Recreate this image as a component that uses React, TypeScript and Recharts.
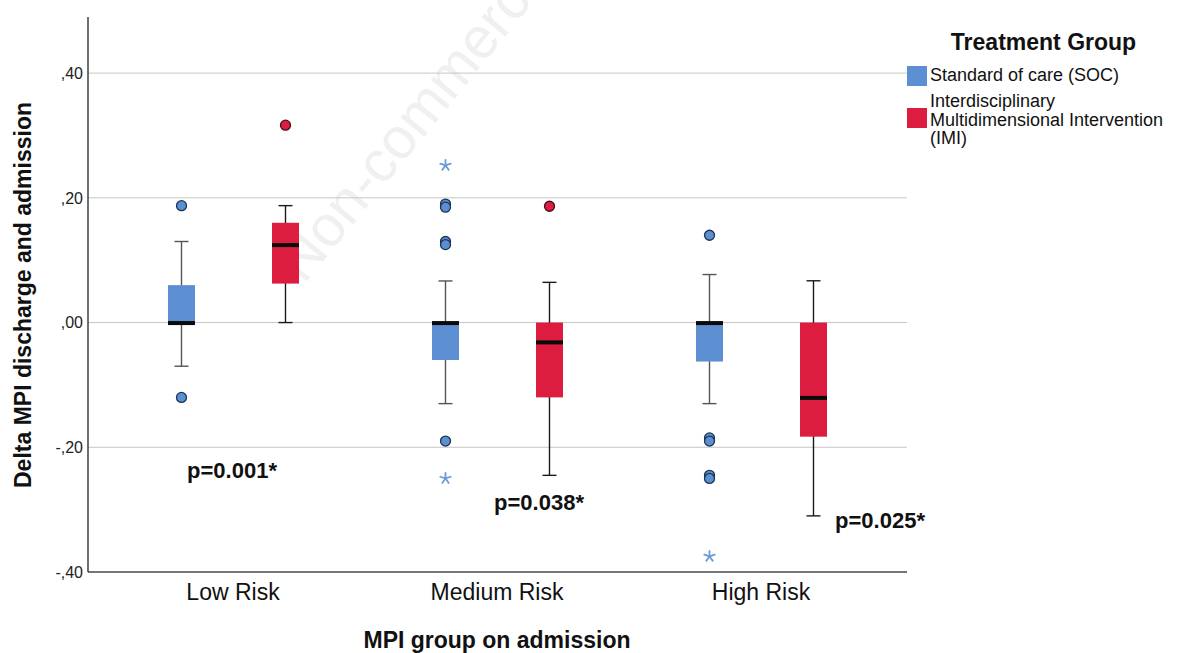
import React from 'react';
import { ComposedChart, Bar, XAxis, YAxis, ReferenceLine, Legend } from 'recharts';

const FONT = '"Liberation Sans", Arial, Helvetica, sans-serif';

const categories = ['Low Risk', 'Medium Risk', 'High Risk'];

// Standard of care (SOC)
const socWhiskerLow = [-0.07, -0.13, -0.13];
const socQ1 = [0.0, -0.06, -0.0625];
const socMedian = [0.0, 0.0, 0.0];
const socQ3 = [0.06, 0.0, 0.0];
const socWhiskerHigh = [0.13, 0.0667, 0.077];
const socOutliers = [
  [0.1875, -0.12],
  [0.19, 0.185, 0.13, 0.125, -0.19],
  [0.14, -0.185, -0.19, -0.245, -0.25],
];
const socExtremes = [[], [0.252, -0.25], [-0.375]];

// Interdisciplinary Multidimensional Intervention (IMI)
const imiWhiskerLow = [0.0, -0.245, -0.31];
const imiQ1 = [0.0625, -0.12, -0.183];
const imiMedian = [0.125, -0.031, -0.12];
const imiQ3 = [0.16, 0.0, 0.0];
const imiWhiskerHigh = [0.1875, 0.0645, 0.067];
const imiOutliers = [[0.3165], [0.1865], []];
const imiExtremes = [[], [], []];

const pValues = ['p=0.001*', 'p=0.038*', 'p=0.025*'];
const yTicks = [-0.4, -0.2, 0, 0.2, 0.4];

const data = categories.map((name, i) => ({
  name,
  soc: [socWhiskerLow[i], socWhiskerHigh[i]],
  socStats: { q1: socQ1[i], median: socMedian[i], q3: socQ3[i], outliers: socOutliers[i], extremes: socExtremes[i] },
  imi: [imiWhiskerLow[i], imiWhiskerHigh[i]],
  imiStats: { q1: imiQ1[i], median: imiMedian[i], q3: imiQ3[i], outliers: imiOutliers[i], extremes: imiExtremes[i] },
}));

// layout of annotation text (pixel positions on the page)
const pValuePos = [
  { x: 232, y: 478 },
  { x: 539, y: 510 },
  { x: 880, y: 528 },
];

const SOC_FILL = '#5b8fd1';
const IMI_FILL = '#dc1d3f';
const CHART_MARGIN = { top: 17, right: 273, bottom: 0, left: 0 };
const Y_DOMAIN: [number, number] = [-0.4, 0.49];

const fmtTick = (v: number) => {
  const s = ',' + String(Math.round(Math.abs(v) * 100)).padStart(2, '0');
  return v < 0 ? '-' + s : s;
};

const makeBoxShape = (key: string, fill: string, whiskerColor: string, dotStroke: string, starColor: string) =>
  (props: any) => {
    const { x, y, width, height, payload } = props;
    const [lo, hi] = payload[key];
    const s = payload[key + 'Stats'];
    const top = Math.min(y, y + height);
    const bottom = Math.max(y, y + height);
    const toY = (v: number) => top + ((hi - v) / (hi - lo)) * (bottom - top);
    const cx = x + width / 2;
    const capW = 7;
    const boxTop = toY(s.q3);
    const boxBot = toY(s.q1);
    return (
      <g>
        <line x1={cx} x2={cx} y1={toY(hi)} y2={toY(lo)} stroke={whiskerColor} strokeWidth={1.4} />
        <line x1={cx - capW} x2={cx + capW} y1={toY(hi)} y2={toY(hi)} stroke={whiskerColor} strokeWidth={1.4} />
        <line x1={cx - capW} x2={cx + capW} y1={toY(lo)} y2={toY(lo)} stroke={whiskerColor} strokeWidth={1.4} />
        <rect x={x} y={boxTop} width={width} height={Math.max(boxBot - boxTop, 0)} fill={fill} />
        <rect x={x} y={toY(s.median) - 1.5} width={width} height={4} fill="#0b0b0b" />
        {s.outliers.map((v: number, j: number) => (
          <circle key={'o' + j} cx={cx} cy={toY(v)} r={5} fill={fill} stroke={dotStroke} strokeWidth={1.3} />
        ))}
        {s.extremes.map((v: number, j: number) => {
          const cy = toY(v);
          return (
            <g key={'e' + j} stroke={starColor} strokeWidth={1.8} strokeLinecap="round">
              {[-90, -18, 54, 126, 198].map((a) => (
                <line
                  key={a}
                  x1={cx}
                  y1={cy}
                  x2={cx + 5.5 * Math.cos((a * Math.PI) / 180)}
                  y2={cy + 5.5 * Math.sin((a * Math.PI) / 180)}
                />
              ))}
            </g>
          );
        })}
      </g>
    );
  };

const socShape = makeBoxShape('soc', SOC_FILL, '#555555', '#1c3553', '#6b9bd8');
const imiShape = makeBoxShape('imi', IMI_FILL, '#1a1a1a', '#4a0c18', '#e0455f');

const XTick = (props: any) => {
  const { x, y, payload } = props;
  return (
    <text x={x} y={y + 28} textAnchor="middle" fontSize={23} fontFamily={FONT} fill="#111">
      {payload.value}
    </text>
  );
};

const legendOrder = ['soc', 'imi'];
const squareTops = [66, 108];
const textTops = [66, 92];

const renderLegend = (props: any) => {
  const items = [...(props.payload || [])].sort(
    (a: any, b: any) => legendOrder.indexOf(a.dataKey) - legendOrder.indexOf(b.dataKey)
  );
  return (
    <div style={{ position: 'relative', width: 273, height: 160, fontFamily: FONT, color: '#111' }}>
      <div
        style={{
          position: 'absolute',
          left: 0,
          top: 29,
          width: 273,
          textAlign: 'center',
          fontWeight: 'bold',
          fontSize: 23,
          lineHeight: '26px',
        }}
      >
        Treatment Group
      </div>
      {items.map((entry: any, i: number) => (
        <React.Fragment key={i}>
          <div
            style={{
              position: 'absolute',
              left: 0,
              top: squareTops[i],
              width: 20,
              height: 20,
              background: entry.color,
            }}
          />
          <div
            style={{
              position: 'absolute',
              left: 23,
              top: textTops[i],
              width: 260,
              fontSize: 18,
              lineHeight: '18.5px',
              whiteSpace: 'pre-line',
            }}
          >
            {entry.value}
          </div>
        </React.Fragment>
      ))}
    </div>
  );
};

// grid lines sit in a chart of their own underneath, so the boxes cover them
const GridLayer = () => (
  <ComposedChart width={1180} height={653} data={data} margin={CHART_MARGIN}>
    <XAxis dataKey="name" height={81} padding={{ left: 13, right: 14 }} tick={false} axisLine={false} tickLine={false} />
    <YAxis width={88} domain={Y_DOMAIN} allowDataOverflow ticks={yTicks} tick={false} axisLine={false} tickLine={false} />
    {yTicks
      .filter((t) => t > Y_DOMAIN[0])
      .map((t) => (
        <ReferenceLine key={t} y={t} stroke="#c6c6c6" strokeWidth={1} />
      ))}
  </ComposedChart>
);

export default function App() {
  return (
    <div style={{ position: 'absolute', left: 0, top: 0, width: 1180, height: 653, background: '#fff', overflow: 'hidden' }}>
      <svg width={1180} height={653} style={{ position: 'absolute', left: 0, top: 0 }}>
        <text transform="translate(304,285) rotate(-51)" fontSize={58} fontFamily={FONT} fill="#f0f0f0">
          Non-commercial
        </text>
        <text
          transform="translate(31,295) rotate(-90)"
          textAnchor="middle"
          fontSize={23}
          fontWeight="bold"
          fontFamily={FONT}
          fill="#111"
        >
          Delta MPI discharge and admission
        </text>
        <text x={497} y={648} textAnchor="middle" fontSize={23} fontWeight="bold" fontFamily={FONT} fill="#111">
          MPI group on admission
        </text>
        {pValues.map((p, i) => (
          <text
            key={p}
            x={pValuePos[i].x}
            y={pValuePos[i].y}
            textAnchor="middle"
            fontSize={22}
            fontWeight="bold"
            fontFamily={FONT}
            fill="#111"
          >
            {p}
          </text>
        ))}
      </svg>
      <div style={{ position: 'absolute', left: 0, top: 0 }}>
        <GridLayer />
      </div>
      <div style={{ position: 'absolute', left: 0, top: 0 }}>
        <ComposedChart width={1180} height={653} data={data} margin={CHART_MARGIN} barGap={77}>
          <XAxis
            dataKey="name"
            height={81}
            padding={{ left: 13, right: 14 }}
            tick={<XTick />}
            tickLine={false}
            tickSize={0}
            tickMargin={0}
            axisLine={{ stroke: '#777', strokeWidth: 2 }}
          />
          <YAxis
            width={88}
            domain={Y_DOMAIN}
            allowDataOverflow
            ticks={yTicks}
            tickFormatter={fmtTick}
            tickLine={false}
            tickSize={0}
            tickMargin={5}
            tick={{ fontSize: 16, fill: '#222', fontFamily: FONT }}
            axisLine={{ stroke: '#222', strokeWidth: 1.3 }}
          />
          <Legend
            layout="vertical"
            align="center"
            verticalAlign="middle"
            content={renderLegend}
            wrapperStyle={{ left: 907, top: 0, width: 273 }}
          />
          <Bar
            dataKey="soc"
            name="Standard of care (SOC)"
            fill={SOC_FILL}
            barSize={27}
            shape={socShape}
            isAnimationActive={false}
          />
          <Bar
            dataKey="imi"
            name={'Interdisciplinary\nMultidimensional Intervention\n(IMI)'}
            fill={IMI_FILL}
            barSize={27}
            shape={imiShape}
            isAnimationActive={false}
          />
        </ComposedChart>
      </div>
    </div>
  );
}
